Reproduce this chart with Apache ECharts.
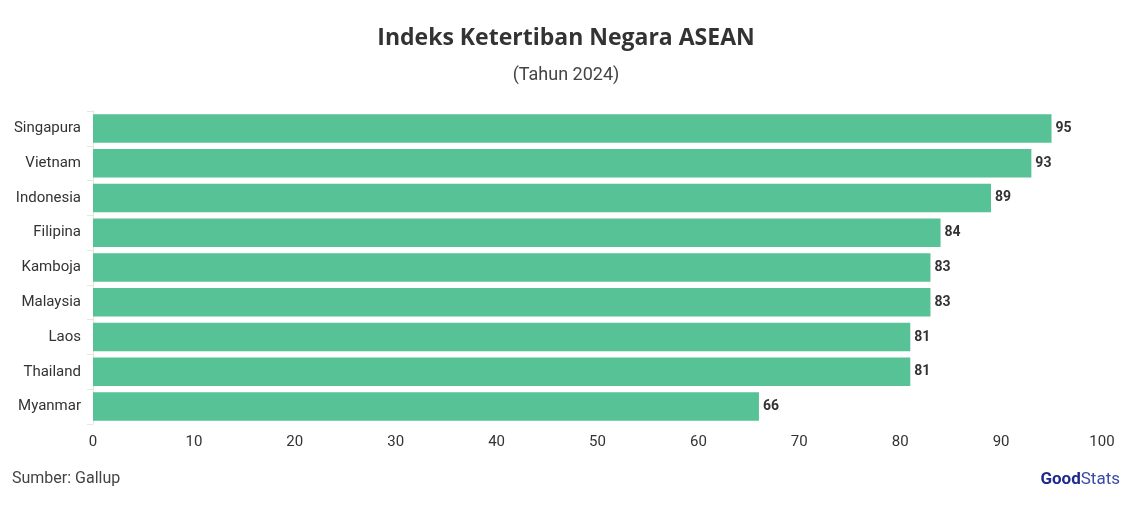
<!DOCTYPE html>
<html>
<head>
<meta charset="utf-8">
<style>html,body{margin:0;padding:0;background:#fff}#c{width:1132px;height:505px}</style>
</head>
<body>
<div id="c"></div>
<script src="https://cdn.jsdelivr.net/npm/echarts/dist/echarts.min.js"></script>
<script>
var countries = ['Singapura','Vietnam','Indonesia','Filipina','Kamboja','Malaysia','Laos','Thailand','Myanmar'];
var values = [95, 93, 89, 84, 83, 83, 81, 81, 66];
var xTicks = [0, 10, 20, 30, 40, 50, 60, 70, 80, 90, 100];

var chart = echarts.init(document.getElementById('c'));
chart.setOption({
    animation: false,
    textStyle: {fontFamily: 'Roboto'},
    title: [
        {text: 'Indeks Ketertiban Negara ASEAN', left: 'center', top: 22,
         textStyle: {fontSize: 23, fontWeight: 'bold', color: '#333', fontFamily: 'Open Sans'}},
        {text: '(Tahun 2024)', left: 'center', top: 61,
         textStyle: {fontSize: 18, fontWeight: 'normal', color: '#444'}}
    ],
    graphic: [
        {type: 'text', left: 12, top: 471, style: {text: 'Sumber: Gallup', fontSize: 16, fill: '#444', fontFamily: 'Roboto'}},
        {type: 'text', right: 12, top: 471, style: {
            text: '{a|Good}{b|Stats}',
            rich: {a: {fontSize: 17, fontWeight: 'bold', fill: '#1e2a8c', fontFamily: 'Roboto'},
                   b: {fontSize: 17, fill: '#3a4aa8', fontFamily: 'Roboto'}}}}
    ],
    grid: {left: 93, right: 30, top: 111, bottom: 81},
    xAxis: {
        type: 'value', min: 0, max: 100, interval: 10,
        axisLine: {show: false}, axisTick: {show: false},
        splitLine: {show: false},
        axisLabel: {fontSize: 15, color: '#333', margin: 11,
            formatter: function (v) { return xTicks.indexOf(v) >= 0 ? String(v) : ''; }}
    },
    yAxis: {
        type: 'category', data: countries, inverse: true,
        axisLine: {show: true, lineStyle: {color: '#e6e6e6'}},
        axisTick: {show: true, length: 6, lineStyle: {color: '#e6e6e6'}},
        axisLabel: {fontSize: 15, color: '#333', margin: 12}
    },
    series: [{
        type: 'bar', data: values, barCategoryGap: '18%',
        itemStyle: {color: '#56c295'},
        label: {show: true, position: 'right', distance: 4, fontSize: 14, fontWeight: 'bold', color: '#333'}
    }]
});
</script>
</body>
</html>
